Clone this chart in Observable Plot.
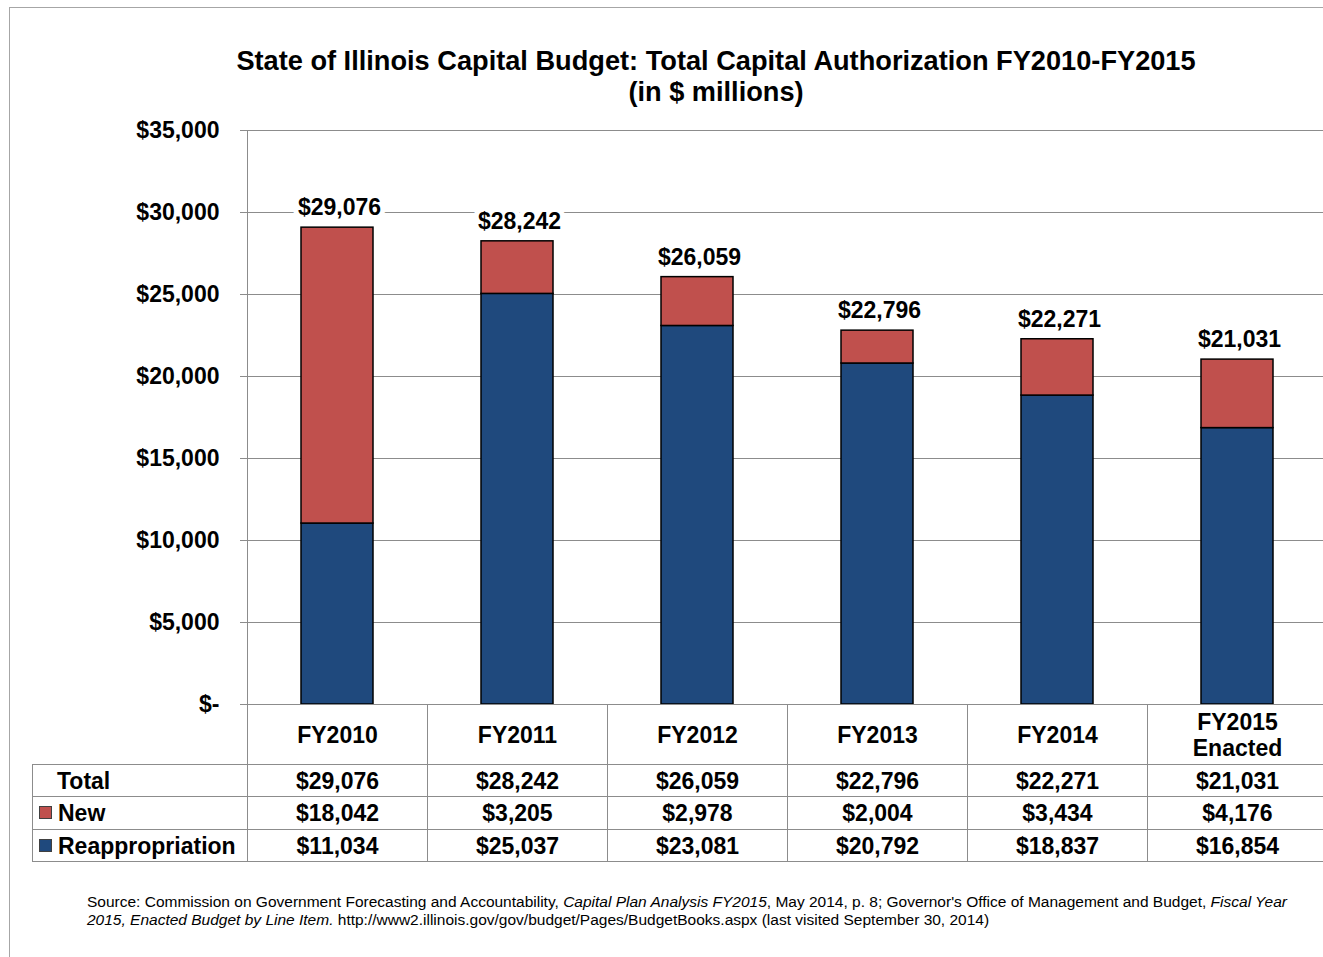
<!DOCTYPE html>
<html><head><meta charset="utf-8">
<script src="https://cdn.jsdelivr.net/npm/d3@7"></script>
<script src="https://cdn.jsdelivr.net/npm/@observablehq/plot@0.6"></script>
<style>
html,body{margin:0;padding:0;background:#fff;overflow:hidden;width:1323px;height:957px;}
body{position:relative;font-family:"Liberation Sans",Arial,sans-serif;color:#000;}
#frame{position:absolute;left:9px;top:7px;width:1400px;height:1000px;border:1px solid #a6a6a6;}
#title{position:absolute;left:0;width:1432px;top:45px;text-align:center;font-weight:bold;font-size:27.2px;line-height:31px;}
#chart{position:absolute;left:0;top:110px;width:1330px;}
#chart svg{max-width:none;}
table{position:absolute;left:32px;top:704px;width:1295px;border-collapse:collapse;table-layout:fixed;}
td{border:1px solid #8c8c8c;padding:0;text-align:center;vertical-align:middle;font-weight:bold;font-size:23px;line-height:26px;white-space:nowrap;overflow:hidden;}
td.corner{border-top:none;border-left:none;}
td.label{text-align:left;padding-left:6px;}
.sw{display:inline-block;width:11px;height:11px;border:1px solid #404040;margin-right:6px;vertical-align:middle;position:relative;top:-2px;}
.sp{display:inline-block;width:18px;}
#caption{position:absolute;left:87px;top:893px;font-size:15.5px;line-height:18px;white-space:nowrap;}
</style></head>
<body>
<div id="frame"></div>
<div id="title">State of Illinois Capital Budget: Total Capital Authorization FY2010-FY2015<br>(in $ millions)</div>
<div id="chart"></div>
<div id="caption">Source: Commission on Government Forecasting and Accountability, <i>Capital Plan Analysis FY2015</i>, May 2014, p. 8; Governor's Office of Management and Budget, <i>Fiscal Year</i><br><i>2015, Enacted Budget by Line Item.</i> http://www2.illinois.gov/gov/budget/Pages/BudgetBooks.aspx (last visited September 30, 2014)</div>
<script>
const years = ["FY2010", "FY2011", "FY2012", "FY2013", "FY2014", "FY2015 Enacted"];
const totals = [29076, 28242, 26059, 22796, 22271, 21031];
const newAuth = [18042, 3205, 2978, 2004, 3434, 4176];
const reapp = [11034, 25037, 23081, 20792, 18837, 16854];
const yTicks = [0, 5000, 10000, 15000, 20000, 25000, 30000, 35000];
const seriesNames = ["Reappropriation", "New"];
const seriesColors = ["#1F497D", "#C0504D"];

const fmt = d3.format("$,.0f");
const tickFmt = d => d === 0 ? "$-" : fmt(d);

const stackData = [];
years.forEach((y, i) => {
  stackData.push({year: y, series: "Reappropriation", value: reapp[i]});
  stackData.push({year: y, series: "New", value: newAuth[i]});
});
const totalData = years.map((y, i) => ({year: y, total: totals[i]}));

const chart = Plot.plot({
  width: 1330, height: 600,
  marginLeft: 247, marginRight: 3, marginTop: 20, marginBottom: 6,
  style: {fontFamily: "Liberation Sans, Arial, sans-serif", fontSize: "23px", fontWeight: "bold", color: "black", background: "transparent", overflow: "visible"},
  x: {domain: years, paddingInner: 0.6, paddingOuter: 0.3, axis: null},
  y: {domain: [0, 35000]},
  color: {domain: seriesNames, range: seriesColors},
  marks: [
    Plot.gridY(yTicks, {stroke: "#8c8c8c", strokeOpacity: 1, strokeWidth: 1}),
    Plot.axisY(yTicks, {tickSize: 7, tickPadding: 21, tickFormat: tickFmt, stroke: "#8c8c8c", fill: "black", fontSize: 23, fontWeight: "bold"}),
    Plot.ruleY([0], {stroke: "#8c8c8c", strokeWidth: 1}),
    Plot.frame({anchor: "left", stroke: "#8c8c8c"}),
    Plot.barY(stackData, {x: "year", y: "value", fill: "series", stroke: "black", strokeWidth: 1.5}),
    Plot.text(totalData, {x: "year", y: "total", text: d => fmt(d.total), dy: -20, dx: 2, fill: "black", stroke: "white", strokeWidth: 10, paintOrder: "stroke", fontSize: 23, fontWeight: "bold"})
  ]
});
document.getElementById("chart").appendChild(chart);

// data table
const rows = [
  {label: "Total", swatch: null, values: totals, h: 32},
  {label: "New", swatch: seriesColors[1], values: newAuth, h: 33},
  {label: "Reappropriation", swatch: seriesColors[0], values: reapp, h: 32}
];
const table = document.createElement("table");
const cg = document.createElement("colgroup");
[215, ...years.map(() => 180)].forEach(w => {
  const c = document.createElement("col"); c.style.width = w + "px"; cg.appendChild(c);
});
table.appendChild(cg);
const hr = document.createElement("tr");
hr.style.height = "60px";
const corner = document.createElement("td"); corner.className = "corner"; hr.appendChild(corner);
years.forEach(y => {
  const td = document.createElement("td");
  td.innerHTML = y.split(" ").join("<br>");
  hr.appendChild(td);
});
table.appendChild(hr);
rows.forEach(r => {
  const tr = document.createElement("tr");
  tr.style.height = r.h + "px";
  const lt = document.createElement("td"); lt.className = "label";
  lt.innerHTML = (r.swatch ? `<span class="sw" style="background:${r.swatch}"></span>` : `<span class="sp"></span>`) + r.label;
  tr.appendChild(lt);
  r.values.forEach(v => {
    const td = document.createElement("td"); td.textContent = fmt(v); tr.appendChild(td);
  });
  table.appendChild(tr);
});
document.body.appendChild(table);
</script>
</body></html>
